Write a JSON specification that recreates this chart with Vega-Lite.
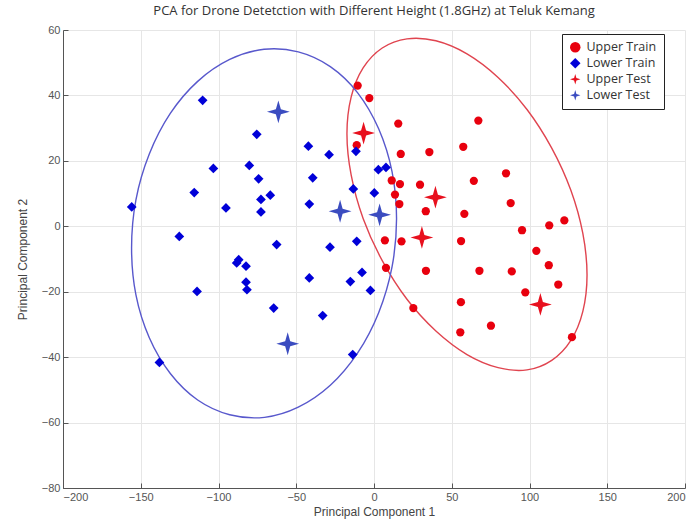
{
  "$schema": "https://vega.github.io/schema/vega-lite/v6.json",
  "width": 622,
  "height": 458,
  "autosize": {"type": "none"},
  "padding": {"left": 63, "top": 30, "right": 5, "bottom": 38},
  "background": "white",
  "title": {
    "text": "PCA for Drone Detetction with Different Height (1.8GHz) at Teluk Kemang",
    "font": "Open Sans",
    "fontSize": 13,
    "fontWeight": "normal",
    "color": "#333333",
    "anchor": "middle",
    "offset": 6
  },
  "config": {
    "view": {"stroke": null},
    "axis": {
      "labelFont": "Liberation Sans",
      "titleFont": "Liberation Sans",
      "labelFontSize": 11,
      "titleFontSize": 12,
      "titleFontWeight": "normal",
      "labelColor": "#555555",
      "titleColor": "#444444",
      "domainColor": "#555555",
      "tickColor": "#555555",
      "gridColor": "#e6e6e6",
      "gridWidth": 1,
      "tickSize": -5,
      "labelPadding": 8
    }
  },
  "datasets": {
    "scores": [
      {"pc1": -10.5, "pc2": 43.0, "group": "Upper Train"},
      {"pc1": -3.0, "pc2": 39.2, "group": "Upper Train"},
      {"pc1": -11.1, "pc2": 24.8, "group": "Upper Train"},
      {"pc1": 15.6, "pc2": 31.4, "group": "Upper Train"},
      {"pc1": 67.1, "pc2": 32.3, "group": "Upper Train"},
      {"pc1": 17.2, "pc2": 22.1, "group": "Upper Train"},
      {"pc1": 35.6, "pc2": 22.7, "group": "Upper Train"},
      {"pc1": 57.4, "pc2": 24.3, "group": "Upper Train"},
      {"pc1": 84.9, "pc2": 16.2, "group": "Upper Train"},
      {"pc1": 64.2, "pc2": 13.9, "group": "Upper Train"},
      {"pc1": 11.4, "pc2": 14.0, "group": "Upper Train"},
      {"pc1": 16.7, "pc2": 12.9, "group": "Upper Train"},
      {"pc1": 29.6, "pc2": 12.7, "group": "Upper Train"},
      {"pc1": 13.5, "pc2": 9.7, "group": "Upper Train"},
      {"pc1": 16.3, "pc2": 6.8, "group": "Upper Train"},
      {"pc1": 87.9, "pc2": 7.1, "group": "Upper Train"},
      {"pc1": 33.3, "pc2": 4.6, "group": "Upper Train"},
      {"pc1": 58.1, "pc2": 3.8, "group": "Upper Train"},
      {"pc1": 122.4, "pc2": 1.8, "group": "Upper Train"},
      {"pc1": 112.7, "pc2": 0.3, "group": "Upper Train"},
      {"pc1": 95.2, "pc2": -1.2, "group": "Upper Train"},
      {"pc1": 7.0, "pc2": -4.3, "group": "Upper Train"},
      {"pc1": 17.7, "pc2": -4.6, "group": "Upper Train"},
      {"pc1": 56.0, "pc2": -4.5, "group": "Upper Train"},
      {"pc1": 104.4, "pc2": -7.5, "group": "Upper Train"},
      {"pc1": 112.4, "pc2": -11.9, "group": "Upper Train"},
      {"pc1": 7.7, "pc2": -12.7, "group": "Upper Train"},
      {"pc1": 33.4, "pc2": -13.6, "group": "Upper Train"},
      {"pc1": 67.8, "pc2": -13.6, "group": "Upper Train"},
      {"pc1": 88.6, "pc2": -13.8, "group": "Upper Train"},
      {"pc1": 118.5, "pc2": -17.8, "group": "Upper Train"},
      {"pc1": 97.3, "pc2": -20.2, "group": "Upper Train"},
      {"pc1": 55.9, "pc2": -23.2, "group": "Upper Train"},
      {"pc1": 25.3, "pc2": -25.0, "group": "Upper Train"},
      {"pc1": 75.2, "pc2": -30.4, "group": "Upper Train"},
      {"pc1": 55.5, "pc2": -32.4, "group": "Upper Train"},
      {"pc1": 127.3, "pc2": -33.9, "group": "Upper Train"},
      {"pc1": -110.2, "pc2": 38.5, "group": "Lower Train"},
      {"pc1": -75.4, "pc2": 28.1, "group": "Lower Train"},
      {"pc1": -42.2, "pc2": 24.5, "group": "Lower Train"},
      {"pc1": -28.9, "pc2": 21.9, "group": "Lower Train"},
      {"pc1": -11.6, "pc2": 22.9, "group": "Lower Train"},
      {"pc1": -103.3, "pc2": 17.7, "group": "Lower Train"},
      {"pc1": -80.2, "pc2": 18.6, "group": "Lower Train"},
      {"pc1": -74.2, "pc2": 14.5, "group": "Lower Train"},
      {"pc1": -39.4, "pc2": 14.8, "group": "Lower Train"},
      {"pc1": 2.8, "pc2": 17.3, "group": "Lower Train"},
      {"pc1": 7.7, "pc2": 18.0, "group": "Lower Train"},
      {"pc1": -115.6, "pc2": 10.3, "group": "Lower Train"},
      {"pc1": -66.7, "pc2": 9.5, "group": "Lower Train"},
      {"pc1": -72.7, "pc2": 8.2, "group": "Lower Train"},
      {"pc1": -13.3, "pc2": 11.4, "group": "Lower Train"},
      {"pc1": 0.2, "pc2": 10.2, "group": "Lower Train"},
      {"pc1": -155.8, "pc2": 5.9, "group": "Lower Train"},
      {"pc1": -95.2, "pc2": 5.6, "group": "Lower Train"},
      {"pc1": -72.7, "pc2": 4.4, "group": "Lower Train"},
      {"pc1": -41.6, "pc2": 6.8, "group": "Lower Train"},
      {"pc1": -125.2, "pc2": -3.1, "group": "Lower Train"},
      {"pc1": -62.6, "pc2": -5.6, "group": "Lower Train"},
      {"pc1": -28.3, "pc2": -6.4, "group": "Lower Train"},
      {"pc1": -11.1, "pc2": -4.6, "group": "Lower Train"},
      {"pc1": -88.3, "pc2": -11.2, "group": "Lower Train"},
      {"pc1": -87.0, "pc2": -10.2, "group": "Lower Train"},
      {"pc1": -82.3, "pc2": -12.2, "group": "Lower Train"},
      {"pc1": -41.6, "pc2": -15.8, "group": "Lower Train"},
      {"pc1": -7.7, "pc2": -14.1, "group": "Lower Train"},
      {"pc1": -15.2, "pc2": -16.9, "group": "Lower Train"},
      {"pc1": -2.3, "pc2": -19.6, "group": "Lower Train"},
      {"pc1": -82.3, "pc2": -17.1, "group": "Lower Train"},
      {"pc1": -81.7, "pc2": -19.4, "group": "Lower Train"},
      {"pc1": -113.8, "pc2": -19.9, "group": "Lower Train"},
      {"pc1": -64.5, "pc2": -25.0, "group": "Lower Train"},
      {"pc1": -33.0, "pc2": -27.3, "group": "Lower Train"},
      {"pc1": -13.7, "pc2": -39.2, "group": "Lower Train"},
      {"pc1": -138.0, "pc2": -41.6, "group": "Lower Train"},
      {"pc1": -6.7, "pc2": 28.5, "group": "Upper Test"},
      {"pc1": 39.5, "pc2": 8.9, "group": "Upper Test"},
      {"pc1": 30.8, "pc2": -3.4, "group": "Upper Test"},
      {"pc1": 107.0, "pc2": -23.9, "group": "Upper Test"},
      {"pc1": -61.5, "pc2": 35.0, "group": "Lower Test"},
      {"pc1": -21.8, "pc2": 4.6, "group": "Lower Test"},
      {"pc1": 3.6, "pc2": 3.5, "group": "Lower Test"},
      {"pc1": -55.5, "pc2": -35.9, "group": "Lower Test"}
    ],
    "rings": [
      {"cluster": "Upper", "k": 0, "pc1": 137.0, "pc2": -14.9},
      {"cluster": "Upper", "k": 1, "pc1": 134.3, "pc2": -26.0},
      {"cluster": "Upper", "k": 2, "pc1": 126.6, "pc2": -34.9},
      {"cluster": "Upper", "k": 3, "pc1": 114.3, "pc2": -41.0},
      {"cluster": "Upper", "k": 4, "pc1": 98.4, "pc2": -43.9},
      {"cluster": "Upper", "k": 5, "pc1": 79.8, "pc2": -43.2},
      {"cluster": "Upper", "k": 6, "pc1": 59.8, "pc2": -39.2},
      {"cluster": "Upper", "k": 7, "pc1": 39.8, "pc2": -32.0},
      {"cluster": "Upper", "k": 8, "pc1": 21.2, "pc2": -22.3},
      {"cluster": "Upper", "k": 9, "pc1": 5.3, "pc2": -10.5},
      {"cluster": "Upper", "k": 10, "pc1": -7.0, "pc2": 2.4},
      {"cluster": "Upper", "k": 11, "pc1": -14.7, "pc2": 15.7},
      {"cluster": "Upper", "k": 12, "pc1": -17.4, "pc2": 28.3},
      {"cluster": "Upper", "k": 13, "pc1": -14.7, "pc2": 39.5},
      {"cluster": "Upper", "k": 14, "pc1": -7.0, "pc2": 48.4},
      {"cluster": "Upper", "k": 15, "pc1": 5.3, "pc2": 54.5},
      {"cluster": "Upper", "k": 16, "pc1": 21.2, "pc2": 57.3},
      {"cluster": "Upper", "k": 17, "pc1": 39.8, "pc2": 56.7},
      {"cluster": "Upper", "k": 18, "pc1": 59.8, "pc2": 52.7},
      {"cluster": "Upper", "k": 19, "pc1": 79.8, "pc2": 45.5},
      {"cluster": "Upper", "k": 20, "pc1": 98.4, "pc2": 35.7},
      {"cluster": "Upper", "k": 21, "pc1": 114.3, "pc2": 23.9},
      {"cluster": "Upper", "k": 22, "pc1": 126.6, "pc2": 11.0},
      {"cluster": "Upper", "k": 23, "pc1": 134.3, "pc2": -2.2},
      {"cluster": "Lower", "k": 0, "pc1": 14.5, "pc2": 2.3},
      {"cluster": "Lower", "k": 1, "pc1": 11.6, "pc2": -12.4},
      {"cluster": "Lower", "k": 2, "pc1": 3.0, "pc2": -26.4},
      {"cluster": "Lower", "k": 3, "pc1": -10.5, "pc2": -38.7},
      {"cluster": "Lower", "k": 4, "pc1": -28.1, "pc2": -48.6},
      {"cluster": "Lower", "k": 5, "pc1": -48.7, "pc2": -55.3},
      {"cluster": "Lower", "k": 6, "pc1": -70.4, "pc2": -58.4},
      {"cluster": "Lower", "k": 7, "pc1": -92.8, "pc2": -57.6},
      {"cluster": "Lower", "k": 8, "pc1": -113.4, "pc2": -53.1},
      {"cluster": "Lower", "k": 9, "pc1": -131.0, "pc2": -45.0},
      {"cluster": "Lower", "k": 10, "pc1": -144.5, "pc2": -34.1},
      {"cluster": "Lower", "k": 11, "pc1": -153.1, "pc2": -21.0},
      {"cluster": "Lower", "k": 12, "pc1": -155.9, "pc2": -6.6},
      {"cluster": "Lower", "k": 13, "pc1": -153.1, "pc2": 8.1},
      {"cluster": "Lower", "k": 14, "pc1": -144.5, "pc2": 22.1},
      {"cluster": "Lower", "k": 15, "pc1": -131.0, "pc2": 34.5},
      {"cluster": "Lower", "k": 16, "pc1": -113.4, "pc2": 44.3},
      {"cluster": "Lower", "k": 17, "pc1": -92.8, "pc2": 51.0},
      {"cluster": "Lower", "k": 18, "pc1": -70.7, "pc2": 54.1},
      {"cluster": "Lower", "k": 19, "pc1": -48.7, "pc2": 53.3},
      {"cluster": "Lower", "k": 20, "pc1": -28.1, "pc2": 48.8},
      {"cluster": "Lower", "k": 21, "pc1": -10.5, "pc2": 40.8},
      {"cluster": "Lower", "k": 22, "pc1": 3.0, "pc2": 29.8},
      {"cluster": "Lower", "k": 23, "pc1": 11.6, "pc2": 16.7}
    ]
  },
  "encoding": {
    "x": {
      "field": "pc1", "type": "quantitative",
      "scale": {"domain": [-200, 200], "nice": false, "zero": false},
      "axis": {"title": "Principal Component 1", "values": [-200, -150, -100, -50, 0, 50, 100, 150, 200], "grid": true, "titlePadding": 4}
    },
    "y": {
      "field": "pc2", "type": "quantitative",
      "scale": {"domain": [-80, 60], "nice": false, "zero": false},
      "axis": {"title": "Principal Component 2", "values": [-80, -60, -40, -20, 0, 20, 40, 60], "grid": true, "titlePadding": 12}
    }
  },
  "layer": [
    {
      "data": {"name": "rings"},
      "mark": {"type": "line", "interpolate": "cardinal-closed", "strokeWidth": 1.4},
      "encoding": {
        "detail": {"field": "cluster"},
        "order": {"field": "k", "type": "quantitative"},
        "stroke": {
          "field": "cluster", "type": "nominal",
          "scale": {"domain": ["Upper", "Lower"], "range": ["#e0444f", "#5858cc"]},
          "legend": null
        }
      }
    },
    {
      "data": {"name": "scores"},
      "transform": [{"filter": "datum.group === 'Upper Train'"}],
      "mark": {"type": "point", "filled": true, "opacity": 1, "size": 68},
      "encoding": {
        "color": {"field": "group", "type": "nominal"},
        "shape": {"field": "group", "type": "nominal"}
      }
    },
    {
      "data": {"name": "scores"},
      "transform": [{"filter": "datum.group === 'Lower Train'"}],
      "mark": {"type": "point", "filled": true, "opacity": 1, "size": 95},
      "encoding": {
        "color": {"field": "group", "type": "nominal"},
        "shape": {"field": "group", "type": "nominal"}
      }
    },
    {
      "data": {"name": "scores"},
      "transform": [{"filter": "datum.group === 'Upper Test' || datum.group === 'Lower Test'"}],
      "mark": {"type": "point", "filled": true, "opacity": 1, "size": 520},
      "encoding": {
        "color": {
          "field": "group", "type": "nominal",
          "scale": {
            "domain": ["Upper Train", "Lower Train", "Upper Test", "Lower Test"],
            "range": ["#e8000e", "#0000d8", "#e8101e", "#3b4cc0"]
          },
          "legend": {
            "title": null,
            "orient": "none",
            "legendX": 499,
            "legendY": 4,
            "fillColor": "white",
            "strokeColor": "#222222",
            "padding": 7,
            "labelFont": "Open Sans",
            "labelFontSize": 12.5,
            "labelColor": "#333333",
            "symbolSize": 110,
            "rowPadding": 3,
            "labelOffset": 5
          }
        },
        "shape": {
          "field": "group", "type": "nominal",
          "scale": {
            "domain": ["Upper Train", "Lower Train", "Upper Test", "Lower Test"],
            "range": ["circle", "diamond", "M0,-1L0.22,-0.22L1,0L0.22,0.22L0,1L-0.22,0.22L-1,0L-0.22,-0.22Z", "M0,-1L0.22,-0.22L1,0L0.22,0.22L0,1L-0.22,0.22L-1,0L-0.22,-0.22Z"]
          }
        }
      }
    }
  ]
}
